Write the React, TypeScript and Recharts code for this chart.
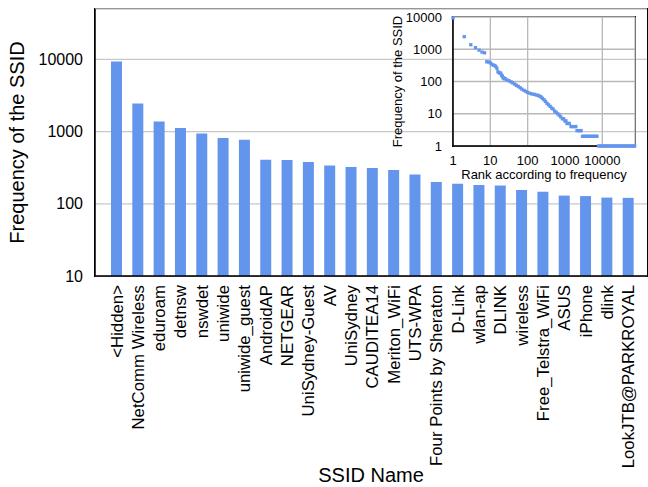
import { BarChart, Bar, ScatterChart, Scatter, XAxis, YAxis, ZAxis, CartesianGrid } from "recharts"

const FONT = "'Liberation Sans', Arial, Helvetica, sans-serif"
const BLUE = "#6495ED"

// top 25 SSIDs
const ssidNames = [
  "<Hidden>", "NetComm Wireless", "eduroam", "detnsw", "nswdet", "uniwide", "uniwide_guest",
  "AndroidAP", "NETGEAR", "UniSydney-Guest", "AV", "UniSydney", "CAUDITEA14", "Meriton_WiFi",
  "UTS-WPA", "Four Points by Sheraton", "D-Link", "wlan-ap", "DLINK", "wireless",
  "Free_Telstra_WiFi", "ASUS", "iPhone", "dlink", "LookJTB@PARKROYAL",
]
const ssidCounts = [
  9380, 2450, 1380, 1125, 940, 817, 774, 408, 404, 379, 340, 323, 313, 294, 255, 200, 190,
  182, 180, 156, 147, 130, 128, 122, 121,
]
const mainTicks = [10, 100, 1000, 10000]

// rank / frequency beyond the top 25 (inset)
const tailRanks = [
  28, 32, 36, 40, 45, 50, 56, 63, 70, 80, 90, 100, 115, 130, 150, 170, 190, 210, 230, 250,
  275, 300, 330, 360, 400, 440, 480, 530, 580, 640, 700, 770, 850, 920, 990, 1060, 1130, 1210,
  1300, 1450, 1600, 1780, 1950, 2100, 2300, 2500, 2700, 2950, 3250, 3600, 4000, 4400, 4900,
  5400, 6000, 6600, 7200, 7900, 8700, 9600, 10500, 11600, 12800, 14100, 15600, 17200, 19000,
  21000, 23200, 25600, 28300, 31300, 34600, 38200, 42200, 46600, 51500, 56900, 62900, 69500,
  73500,
]
const tailFreqs = [
  112, 105, 97, 90, 83, 76, 70, 64, 58, 53, 49, 46, 43, 41, 40, 38, 37, 35, 33, 30,
  27, 24, 21, 19, 17, 15, 14, 12, 11, 10, 9, 8, 7, 7, 6, 6, 5, 5,
  5, 4, 4, 4, 4, 3, 3, 3, 3, 2, 2, 2, 2, 2, 2,
  2, 2, 2, 2, 1, 1, 1, 1, 1, 1, 1, 1, 1, 1,
  1, 1, 1, 1, 1, 1, 1, 1, 1, 1, 1, 1, 1,
  1,
]
const insetTicks = [1, 10, 100, 1000, 10000]

const barData = ssidNames.map((name, i) => ({ name, count: ssidCounts[i] }))
const rankData = [
  ...ssidCounts.map((c, i) => ({ rank: i + 1, freq: c })),
  ...tailRanks.map((r, i) => ({ rank: r, freq: tailFreqs[i] })),
]

const RotatedTick = ({ x, y, payload }: any) => (
  <text
    x={x}
    y={y}
    transform={`rotate(-90, ${x}, ${y})`}
    textAnchor="end"
    dy="0.35em"
    fontSize={16.8}
    fontFamily={FONT}
    fill="#000"
  >
    {payload.value}
  </text>
)

const frame = { stroke: "#000", strokeWidth: 1.5 }

// black box round a plot area (drawn under the svg so points stay on top)
const Box = ({ left, top, width, height }: { left: number; top: number; width: number; height: number }) => (
  <div
    style={{
      position: "absolute",
      left: left - 0.75,
      top: top - 0.75,
      width: width + 1.5,
      height: height + 1.5,
      border: "1.5px solid #000",
      boxSizing: "border-box",
      pointerEvents: "none",
    }}
  />
)

export default function App() {
  return (
    <div style={{ position: "absolute", left: 0, top: 0, width: 648, height: 487, background: "#fff", fontFamily: FONT }}>
      <Box left={95} top={9} width={552} height={267} />
      <BarChart width={648} height={487} data={barData} margin={{ top: 9, right: 1, left: 0, bottom: 0 }}>
        <CartesianGrid vertical={false} stroke="#c8c8c8" strokeWidth={1.3} />
        <XAxis
          dataKey="name"
          interval={0}
          height={211}
          tickLine={false}
          tickSize={0}
          tickMargin={9}
          padding={{ left: 11, right: 8 }}
          axisLine={frame}
          tick={(p: any) => <RotatedTick {...p} />}
          label={{
            content: ({ viewBox }: any) => (
              <text x={viewBox.x + viewBox.width / 2} y={482} textAnchor="middle" fontSize={20} fontFamily={FONT} fill="#000">
                SSID Name
              </text>
            ),
          }}
        />
        <YAxis
          type="number"
          scale="log"
          domain={[10, 50000]}
          allowDataOverflow
          ticks={mainTicks}
          width={95}
          tickLine={false}
          tickSize={6}
          tickMargin={6}
          axisLine={frame}
          tick={{ fontSize: 16, fill: "#000", fontFamily: FONT }}
          label={{
            content: ({ viewBox }: any) => {
              const cy = viewBox.y + viewBox.height / 2
              return (
                <text x={24} y={cy} transform={`rotate(-90, 24, ${cy})`} textAnchor="middle" fontSize={20} fontFamily={FONT} fill="#000">
                  Frequency of the SSID
                </text>
              )
            },
          }}
        />
        <Bar dataKey="count" fill={BLUE} barSize={11} isAnimationActive={false} />
      </BarChart>

      <div style={{ position: "absolute", left: 380, top: 0 }}>
        <Box left={73} top={17} width={182} height={129} />
        <ScatterChart width={268} height={190} margin={{ top: 17, right: 13, left: 0, bottom: 0 }}>
          <CartesianGrid stroke="#b8b8b8" strokeWidth={1.3} />
          <XAxis
            dataKey="rank"
            type="number"
            scale="log"
            domain={[1, 75000]}
            ticks={insetTicks}
            height={44}
            tickLine={false}
            tickSize={0}
            tickMargin={10}
            axisLine={frame}
            tick={{ fontSize: 13, fill: "#000", fontFamily: FONT }}
            label={{
              content: ({ viewBox }: any) => (
                <text x={viewBox.x + viewBox.width / 2} y={179} textAnchor="middle" fontSize={13} fontFamily={FONT} fill="#000">
                  Rank according to frequency
                </text>
              ),
            }}
          />
          <YAxis
            dataKey="freq"
            type="number"
            scale="log"
            domain={[1, 10000]}
            ticks={insetTicks}
            width={73}
            tickLine={false}
            tickSize={0}
            tickMargin={11}
            axisLine={frame}
            tick={{ fontSize: 13, fill: "#000", fontFamily: FONT }}
            label={{
              content: ({ viewBox }: any) => {
                const cy = viewBox.y + viewBox.height / 2
                return (
                  <text x={22} y={cy} transform={`rotate(-90, 22, ${cy})`} textAnchor="middle" fontSize={13} fontFamily={FONT} fill="#000">
                    Frequency of the SSID
                  </text>
                )
              },
            }}
          />
          <ZAxis range={[11, 11]} />
          <Scatter data={rankData} dataKey="freq" fill={BLUE} shape="square" isAnimationActive={false} />
        </ScatterChart>
      </div>
    </div>
  )
}
